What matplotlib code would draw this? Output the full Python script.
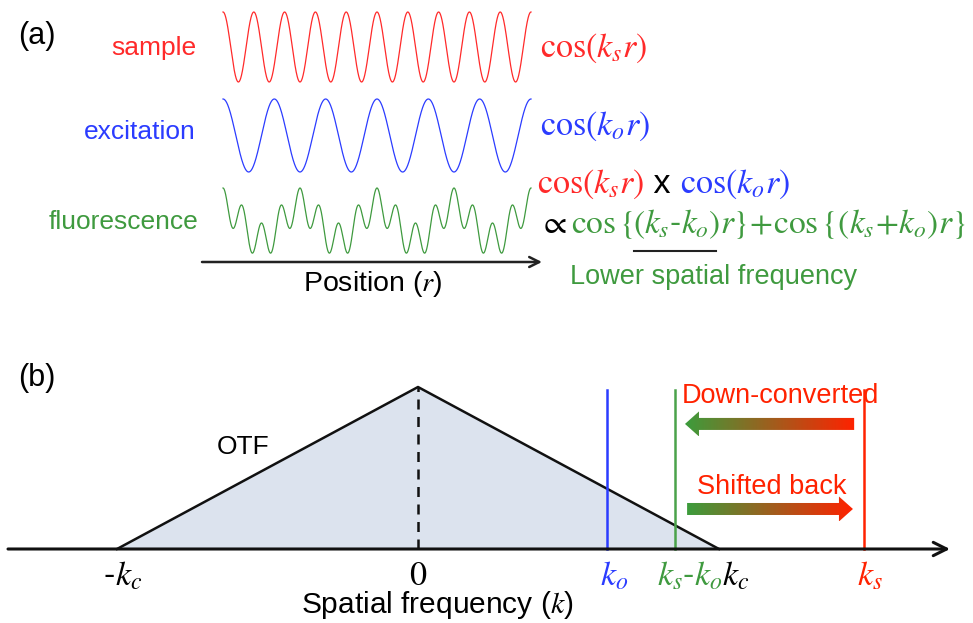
import numpy as np
import matplotlib.pyplot as plt
from matplotlib.colors import LinearSegmentedColormap
from matplotlib.patches import Polygon
from matplotlib.lines import Line2D

plt.rcParams['font.family'] = ['Liberation Sans', 'DejaVu Sans']
plt.rcParams['mathtext.fontset'] = 'stix'

RED = '#ff2a2a'
BLUE = '#2b3cff'
GREEN = '#3f9a3f'

# (a) number of periods of each pattern across the drawn window
n_sample = 10
n_excite = 6

# (b) spatial frequencies, in units of the cutoff k_c
k_c = 1.0
k_o = 0.628
k_s = 1.482
k_diff = k_s - k_o
line_top = 0.98
otf_x = [-k_c, 0.0, k_c]
otf_y = [0.0, 1.0, 0.0]

W, H = 973, 623
fig = plt.figure(figsize=(W / 100, H / 100), dpi=100)
rend = fig.canvas.get_renderer()


def fx(px):
    return px / W


def fy(py):
    return 1 - py / H


def label(x, y, s, **kw):
    kw.setdefault('size', 19)
    return fig.text(fx(x), fy(y), s, **kw)


def chain(pieces, x, y, size=24.5, ha='left'):
    # texte en morceaux de couleurs differentes, sur la meme ligne de base
    texts = []
    for s, c in pieces:
        texts.append(fig.text(0, fy(y), s, color=c, size=size, va='baseline'))
    widths = [t.get_window_extent(rend).width for t in texts]
    start = x - sum(widths) / 2 if ha == 'center' else x
    spans = []
    for t, w in zip(texts, widths):
        t.set_x(fx(start))
        spans.append((start, start + w))
        start += w
    return spans


# ------------------------------ (a) ------------------------------
ax_a = fig.add_axes([0, fy(330), 1, 330 / H])
ax_a.axis('off')

r = np.linspace(0, 1, 2000)
sample = np.cos(2 * np.pi * n_sample * r)
excite = np.cos(2 * np.pi * n_excite * r)
fluo = sample * excite

ax_a.plot(r, 47 - 35 * sample, color=RED, lw=0.9)
ax_a.plot(r, 135.5 - 36.5 * excite, color=BLUE, lw=0.9)
ax_a.plot(r, 223 - 35 * fluo, color=GREEN, lw=0.9)

ax_a.annotate('', xy=((542 - 223) / 308, 262), xytext=((202 - 223) / 308, 262),
              arrowprops=dict(arrowstyle='->', lw=1.8, color='#222222',
                              mutation_scale=18, shrinkA=0, shrinkB=0))
ax_a.set_xlim(-223 / 308, (W - 223) / 308)
ax_a.set_ylim(330, 0)

label(18, 36, '(a)', size=22, va='center')
label(196, 55, 'sample', color=RED, ha='right', va='baseline')
label(196, 139, 'excitation', color=BLUE, ha='right', va='baseline')
label(198, 229, 'fluorescence', color=GREEN, ha='right', va='baseline')
label(373, 291, 'Position ($r$)', size=20.5, ha='center', va='baseline')

chain([(r'$\mathrm{cos}(k_s r)$', RED)], 540, 57)
chain([(r'$\mathrm{cos}(k_o r)$', BLUE)], 540, 135)
chain([(r'$\mathrm{cos}(k_s r)$', RED), (' x ', 'k'),
       (r'$\mathrm{cos}(k_o r)$', BLUE)], 537, 193)
chain([(r'$\propto$', 'k')], 539, 233, size=24)
sp = chain([(r'$\mathrm{cos}\,\{$', GREEN), (r'$(k_s$', GREEN),
            ('-', GREEN), (r'$k_o)$', GREEN),
            (r'$r\}\!+\!\mathrm{cos}\,\{(k_s\!+\!k_o)r\}$', GREEN)], 571, 233, size=24)
# trait sous (ks-ko)
fig.add_artist(Line2D([fx(sp[1][0] + 1), fx(sp[3][1] - 4)], [fy(251), fy(251)],
                      color='#222222', lw=1.5))
label(570, 284, 'Lower spatial frequency', size=19.5, color=GREEN, va='baseline')

# ------------------------------ (b) ------------------------------
ax_b = fig.add_axes([0, 0, 1, 293 / H])
ax_b.axis('off')

ax_b.fill(otf_x, otf_y, color='#dce3ee', lw=0, zorder=1)
ax_b.plot(otf_x, otf_y, color='#111111', lw=1.8, zorder=2)
ax_b.plot([0, 0], [0, 1], color='#111111', lw=1.8, dashes=(4, 3), zorder=2)

for k, c in [(k_o, BLUE), (k_diff, '#4aa24a'), (k_s, '#ff2200')]:
    ax_b.plot([k, k], [0, line_top], color=c, lw=1.8, zorder=2)

ax_b.annotate('', xy=((950 - 418) / 301, 0), xytext=((8 - 418) / 301, 0),
              arrowprops=dict(arrowstyle='->', lw=2.2, color='#111111',
                              mutation_scale=24, shrinkA=0, shrinkB=0), zorder=4)

cmap = LinearSegmentedColormap.from_list('gr', ['#3c9c3c', '#ff2200'])


def grad_arrow(ax, x0, x1, y, body=12 / 162, head_h=25 / 162, head_l=14 / 301):
    d = np.sign(x1 - x0)
    xb = x1 - d * head_l
    verts = [(x0, y - body / 2), (xb, y - body / 2), (xb, y - head_h / 2), (x1, y),
             (xb, y + head_h / 2), (xb, y + body / 2), (x0, y + body / 2)]
    poly = Polygon(verts, closed=True, fc='none', ec='none')
    ax.add_patch(poly)
    grad = np.linspace(0, 1, 256).reshape(1, -1)
    im = ax.imshow(grad, cmap=cmap, aspect='auto', zorder=3,
                   extent=[min(x0, x1), max(x0, x1), y - head_h / 2, y + head_h / 2])
    im.set_clip_path(poly)


gap = 0.033
grad_arrow(ax_b, k_s - gap, k_diff + gap, 0.772)
grad_arrow(ax_b, k_diff + gap + 0.007, k_s - gap - 0.004, 0.247)

ax_b.set_xlim(-418 / 301, (W - 418) / 301)
ax_b.set_ylim((549 - 623) / 162, (549 - 330) / 162)

label(18, 378, '(b)', size=22, va='center')
label(243, 447, 'OTF', ha='center', va='center')
label(682, 403, 'Down-converted', color='#ff2200', size=19.5, va='baseline')
label(697, 494, 'Shifted back', color='#ff2200', size=19.5, va='baseline')

chain([('-', 'k'), (r'$k_c$', 'k')], 123, 585, ha='center')
chain([(r'$0$', 'k')], 418, 585, ha='center')
chain([(r'$k_o$', BLUE)], 614, 585, ha='center')
chain([(r'$k_s$', GREEN), ('-', GREEN), (r'$k_o$', GREEN), (r'$k_c$', 'k')], 657, 585)
chain([(r'$k_s$', '#ff2200')], 870, 585, ha='center')
label(437, 613, 'Spatial frequency ($k$)', size=21.5, ha='center', va='baseline')

fig.savefig('out.png', dpi=100)
